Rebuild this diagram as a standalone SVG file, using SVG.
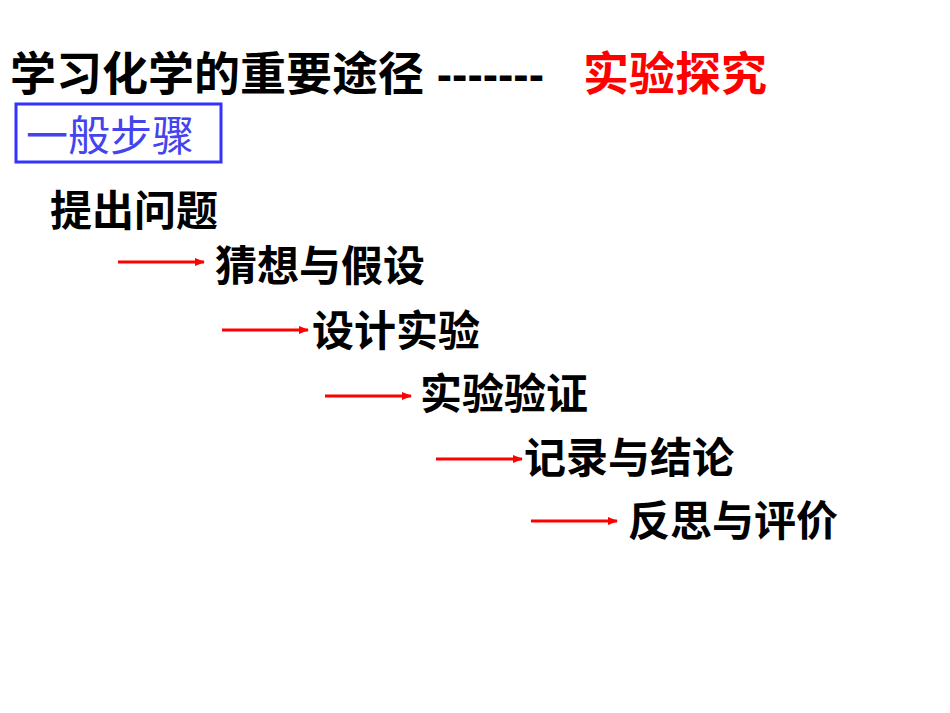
<svg xmlns="http://www.w3.org/2000/svg" width="950" height="713" viewBox="0 0 950 713">
<style>
text{font-family:"Liberation Sans","Noto Sans CJK SC",sans-serif;font-weight:bold;font-size:42px;fill:#000}
.t{font-size:46px}
.c line{stroke:#f00;stroke-width:3}
</style>
<defs><marker id="a" markerWidth="10" markerHeight="8" refX="9" refY="4" orient="auto" markerUnits="userSpaceOnUse"><path d="M0,0L10,4L0,8z" fill="#f00"/></marker></defs>
<rect width="950" height="713" fill="#fff"/>
<g id="title"><text class="t" x="10" y="90">学习化学的重要途径 -------</text><text class="t" x="583" y="90" style="fill:#f00">实验探究</text></g>
<g id="box"><rect x="16" y="104" width="205" height="58" fill="none" stroke="#33f" stroke-width="3"/><text x="26" y="151" style="fill:#44e;font-weight:normal">一般步骤</text></g>
<g id="n1"><text x="50" y="226">提出问题</text></g>
<g id="n2"><text x="215" y="281">猜想与假设</text></g>
<g id="n3"><text x="312" y="346">设计实验</text></g>
<g id="n4"><text x="420" y="409">实验验证</text></g>
<g id="n5"><text x="524" y="473">记录与结论</text></g>
<g id="n6"><text x="628" y="536">反思与评价</text></g>
<g class="c" id="connectors">
<line x1="118" y1="262" x2="204" y2="262" marker-end="url(#a)"/>
<line x1="222" y1="330" x2="308" y2="330" marker-end="url(#a)"/>
<line x1="325" y1="396" x2="411" y2="396" marker-end="url(#a)"/>
<line x1="436" y1="459" x2="522" y2="459" marker-end="url(#a)"/>
<line x1="531" y1="521" x2="617" y2="521" marker-end="url(#a)"/>
</g>
</svg>
